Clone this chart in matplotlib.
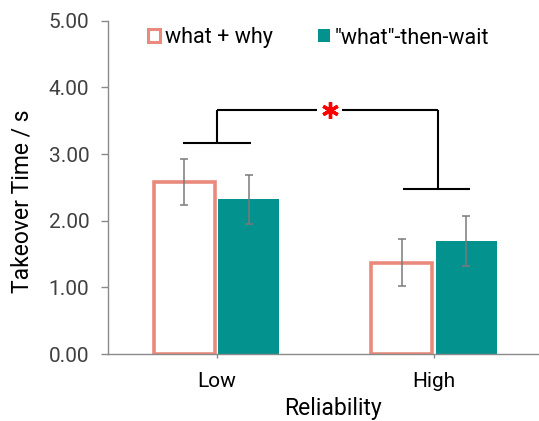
import matplotlib
matplotlib.use("Agg")
import matplotlib.pyplot as plt
from matplotlib.patches import Patch
import numpy as np

plt.rcParams['font.family'] = ['Roboto', 'DejaVu Sans']

# data
categories = ["Low", "High"]
series_names = ["what + why", "\"what\"-then-wait"]
what_why = [2.58, 1.37]
what_why_err = [0.34, 0.35]
then_wait = [2.32, 1.69]
then_wait_err = [0.37, 0.375]
yticks = [0, 1, 2, 3, 4, 5]

# significance bracket (data coords)
bracket_low = (-0.156, 0.156, 3.17)
bracket_high = (0.859, 1.164, 2.47)
bracket_top = 3.66
bracket_x = (0.0, 1.02)
star_x = 0.52
star_gap = (0.463, 0.578)

pink = "#E98A7C"
teal = "#03928E"
axis_gray = "#8a8a8a"

fig = plt.figure(figsize=(5.39, 4.21), dpi=100)
ax = fig.add_axes([108 / 539, 67 / 421, 434.6 / 539, 333.3 / 421])

x = np.arange(len(categories))
w = 0.28
off = 0.148

ax.bar(x - off, what_why, width=w, facecolor="white", edgecolor=pink,
       linewidth=2.6, zorder=2)
ax.bar(x + off, then_wait, width=w, color=teal, linewidth=0, zorder=2)
ax.errorbar(x - off, what_why, yerr=what_why_err, fmt="none", ecolor="#7a7a7a",
            elinewidth=1.1, capsize=3.1, capthick=1.1, zorder=3)
ax.errorbar(x + off, then_wait, yerr=then_wait_err, fmt="none", ecolor="#7a7a7a",
            elinewidth=1.1, capsize=3.1, capthick=1.1, zorder=3)

# bracket
lk = dict(color="black", linewidth=1.5, clip_on=False, solid_capstyle="butt")
ax.plot([bracket_low[0], bracket_low[1]], [bracket_low[2]] * 2, **lk)
ax.plot([bracket_high[0], bracket_high[1]], [bracket_high[2]] * 2, **lk)
ax.plot([bracket_x[0], bracket_x[0]], [bracket_low[2], bracket_top], **lk)
ax.plot([bracket_x[1], bracket_x[1]], [bracket_high[2], bracket_top], **lk)
ax.plot([bracket_x[0], star_gap[0]], [bracket_top] * 2, **lk)
ax.plot([star_gap[1], bracket_x[1]], [bracket_top] * 2, **lk)
ax.plot([star_x], [bracket_top], linestyle="none", marker=(6, 2, 0),
        markersize=12, markeredgewidth=2.4, color="#ff0000", clip_on=False)

ax.set_xlim(-0.5, 1.5)
ax.set_ylim(0, 5)
ax.set_yticks(yticks)
ax.set_yticklabels([f"{v:.2f}" for v in yticks])
ax.set_xticks(x)
ax.set_xticklabels(categories)

for s in ["top", "right"]:
    ax.spines[s].set_visible(False)
for s in ["left", "bottom"]:
    ax.spines[s].set_color(axis_gray)
    ax.spines[s].set_linewidth(1.0)

ax.tick_params(axis="y", length=5, width=1.0, color=axis_gray, pad=8.5,
               labelsize=15, labelcolor="#404040")
ax.tick_params(axis="x", length=3, width=1.0, color=axis_gray, pad=10,
               labelsize=15, labelcolor="black")

ax.set_ylabel("Takeover Time / s", fontsize=16.5, ha="center", va="center")
ax.yaxis.set_label_coords(-0.199, 0.459)
ax.set_xlabel("Reliability", fontsize=16.5, va="top")
ax.xaxis.set_label_coords(0.518, -0.13)

handles = [Patch(facecolor="white", edgecolor=pink, linewidth=2.2),
           Patch(facecolor=teal, edgecolor=teal, linewidth=0)]
fig.legend(handles, series_names, loc="center left",
           bbox_to_anchor=(148 / 539, 1 - 38 / 421), ncol=2, frameon=False,
           fontsize=15.5, handlelength=0.56, handleheight=0.56,
           handletextpad=0.23, columnspacing=2.1, borderpad=0,
           borderaxespad=0)

fig.savefig("out.png", dpi=100)
